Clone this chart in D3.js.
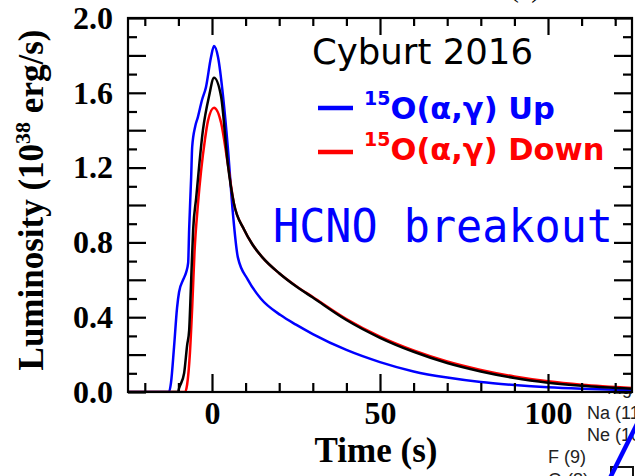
<!DOCTYPE html>
<html>
<head>
<meta charset="utf-8">
<script src="https://cdn.jsdelivr.net/npm/d3@7"></script>
<style>
  html, body { margin: 0; padding: 0; background: #fff; }
  svg { display: block; }
</style>
</head>
<body>
<svg id="chart" width="635" height="476"></svg>
<script>
// ---------------- DATA ----------------
// Time (s) and luminosity (10^38 erg/s) for each curve
const upTime = [-25, -12.8, -12.2, -11.3, -10.4, -9.8, -8.6, -7.7, -7.1, -6.8, -6.2, -5.9, -5.0, -4.2, -3.0, -1.8, -0.3, 0.6, 1.8, 3.3, 4.7, 6.2, 7.7, 10.7, 14.5, 20.5, 25, 30, 40, 50, 60, 70, 80, 90, 100, 110, 125];
const upLum  = [0, 0, 0.05, 0.24, 0.45, 0.535, 0.60, 0.64, 0.69, 0.87, 1.15, 1.31, 1.42, 1.47, 1.56, 1.63, 1.79, 1.85, 1.79, 1.58, 1.31, 0.96, 0.72, 0.60, 0.50, 0.41, 0.36, 0.31, 0.225, 0.16, 0.11, 0.077, 0.053, 0.037, 0.025, 0.017, 0.009];

const baseTime = [-25, -10.1, -9.8, -8.3, -7.4, -6.8, -6.2, -5.6, -4.7, -2.7, -0.9, 0.6, 2.7, 4.7, 6.5, 9.5, 12, 15, 20, 25, 30, 40, 50, 60, 70, 80, 90, 100, 110, 125];
const baseLum  = [0, 0, 0.02, 0.10, 0.25, 0.33, 0.60, 0.87, 1.04, 1.40, 1.58, 1.68, 1.58, 1.22, 1.01, 0.87, 0.79, 0.72, 0.635, 0.565, 0.505, 0.385, 0.29, 0.215, 0.155, 0.11, 0.075, 0.05, 0.033, 0.017];

const downTime = [-25, -8.0, -7.4, -6.6, -5.9, -5.2, -4.2, -2.1, -1.2, 0.6, 2.7, 4.7, 6.5, 9.5, 12, 15, 20, 25, 30, 40, 50, 60, 70, 80, 90, 100, 110, 125];
const downLum  = [0, 0, 0.04, 0.20, 0.45, 0.75, 1.00, 1.35, 1.45, 1.52, 1.44, 1.22, 1.01, 0.87, 0.79, 0.72, 0.635, 0.567, 0.508, 0.39, 0.296, 0.222, 0.163, 0.118, 0.083, 0.057, 0.039, 0.022];

const xMajorTicks = [0, 50, 100];
const xMinorTicks = [-20, -10, 10, 20, 30, 40, 60, 70, 80, 90, 110, 120];
const yMajorTicks = [0, 0.2, 0.4, 0.6, 0.8, 1.0, 1.2, 1.4, 1.6, 1.8, 2.0];
const yLabelTicks = [0, 0.4, 0.8, 1.2, 1.6, 2.0];
const yMinorTicks = [0.1, 0.3, 0.5, 0.7, 0.9, 1.1, 1.3, 1.5, 1.7, 1.9];

const seriesNames = ["15O(α,γ) Up", "15O(α,γ) Down", "Cyburt 2016"];
const fragmentLabels = ["Mg (12)", "Na (11)", "Ne (10)", "F (9)", "O (8)"];

// ---------------- LAYOUT ----------------
const L = 128, R = 632, T = 18, B = 392;
const serif = "'Liberation Serif', 'Times New Roman', serif";
const sans = "'DejaVu Sans', Verdana, sans-serif";
const mono = "'DejaVu Sans Mono', monospace";

const svg = d3.select("#chart");
svg.append("rect").attr("width", 635).attr("height", 476).attr("fill", "#fff");

// --- fragment of neighbouring figure (bottom-right) ---
const frag = svg.append("g");
const fragPos = [[607, 394], [587, 419], [587, 441], [548, 463], [548, 486]];
frag.selectAll("text").data(fragmentLabels).join("text")
  .attr("x", (d, i) => fragPos[i][0]).attr("y", (d, i) => fragPos[i][1])
  .attr("font-family", "'Liberation Sans', Arial, sans-serif")
  .attr("font-size", 18).attr("fill", "#222").text(d => d);
frag.append("rect").attr("x", 611).attr("y", 467).attr("width", 22).attr("height", 14)
  .attr("fill", "none").attr("stroke", "#111").attr("stroke-width", 2);
frag.append("line").attr("x1", 610).attr("y1", 478).attr("x2", 637).attr("y2", 424)
  .attr("stroke", "#0000ff").attr("stroke-width", 4.5);
// cover (plot panel hides upper part of Mg label)
svg.append("rect").attr("x", 0).attr("y", 0).attr("width", 635).attr("height", 393).attr("fill", "#fff");

// cut-off panel label at the very top
svg.append("text").attr("x", 525).attr("y", -3).attr("text-anchor", "middle")
  .attr("font-family", serif).attr("font-size", 28).text("(c)");

const x = d3.scaleLinear().domain([-25, 125]).range([L, R]);
const y = d3.scaleLinear().domain([0, 2]).range([B, T]);

// clip
svg.append("defs").append("clipPath").attr("id", "clip")
  .append("rect").attr("x", L).attr("y", T).attr("width", R - L).attr("height", B - T);

const line = d3.line().x(d => x(d[0])).y(d => y(d[1])).curve(d3.curveMonotoneX);
const curves = [
  { t: upTime, v: upLum, color: "#0000ff" },
  { t: downTime, v: downLum, color: "#ff0000" },
  { t: baseTime, v: baseLum, color: "#000000" }
];
const gLines = svg.append("g").attr("clip-path", "url(#clip)");
curves.forEach(c => {
  gLines.append("path").datum(c.t.map((t, i) => [t, c.v[i]]))
    .attr("d", line).attr("fill", "none").attr("stroke", c.color)
    .attr("stroke-width", 2.5).attr("stroke-linejoin", "round");
});

// ---------------- AXES ----------------
function styleAxis(g) {
  g.select(".domain").remove();
  g.selectAll(".tick line").attr("stroke", "#000").attr("stroke-width", 2.2);
  g.selectAll("text").attr("font-family", serif).attr("font-weight", "bold")
    .attr("font-size", 32).attr("fill", "#000");
}
// bottom
svg.append("g").attr("transform", `translate(0,${B})`)
  .call(d3.axisBottom(x).tickValues(xMinorTicks).tickSize(-9).tickFormat(""))
  .call(styleAxis);
const gxb = svg.append("g").attr("transform", `translate(0,${B})`)
  .call(d3.axisBottom(x).tickValues(xMajorTicks).tickSize(-18).tickFormat(d3.format("d")))
  .call(styleAxis);
gxb.selectAll("text").attr("y", 32).attr("dy", null);
// top
svg.append("g").attr("transform", `translate(0,${T})`)
  .call(d3.axisTop(x).tickValues(xMinorTicks).tickSize(-8).tickFormat(""))
  .call(styleAxis);
svg.append("g").attr("transform", `translate(0,${T})`)
  .call(d3.axisTop(x).tickValues(xMajorTicks).tickSize(-17).tickFormat(""))
  .call(styleAxis);
// left
svg.append("g").attr("transform", `translate(${L},0)`)
  .call(d3.axisLeft(y).tickValues(yMinorTicks).tickSize(-9).tickFormat(""))
  .call(styleAxis);
const gyl = svg.append("g").attr("transform", `translate(${L},0)`)
  .call(d3.axisLeft(y).tickValues(yMajorTicks).tickSize(-18)
    .tickFormat(d => yLabelTicks.some(v => Math.abs(v - d) < 1e-9) ? d3.format(".1f")(d) : ""))
  .call(styleAxis);
gyl.selectAll("text").attr("x", -15).attr("dy", "0.32em");
// right
svg.append("g").attr("transform", `translate(${R},0)`)
  .call(d3.axisRight(y).tickValues(yMinorTicks).tickSize(-9).tickFormat(""))
  .call(styleAxis);
svg.append("g").attr("transform", `translate(${R},0)`)
  .call(d3.axisRight(y).tickValues(yMajorTicks).tickSize(-18).tickFormat(""))
  .call(styleAxis);

// frame
svg.append("rect").attr("x", L).attr("y", T).attr("width", R - L).attr("height", B - T)
  .attr("fill", "none").attr("stroke", "#000").attr("stroke-width", 2.2);

// axis titles
svg.append("text").attr("x", 376).attr("y", 462).attr("text-anchor", "middle")
  .attr("font-family", serif).attr("font-weight", "bold").attr("font-size", 35)
  .text("Time (s)");

const yt = svg.append("text")
  .attr("transform", "translate(43,200) rotate(-90)")
  .attr("text-anchor", "middle")
  .attr("font-family", serif).attr("font-weight", "bold").attr("font-size", 35);
yt.append("tspan").text("Luminosity (10");
yt.append("tspan").attr("font-size", 22).attr("dy", -13).text("38");
yt.append("tspan").attr("dy", 13).text(" erg/s)");

// ---------------- LEGEND / ANNOTATIONS ----------------
svg.append("text").attr("x", 312).attr("y", 64)
  .attr("font-family", sans).attr("font-size", 35.5).attr("fill", "#000")
  .text(seriesNames[2]);

const legendRows = [
  { name: seriesNames[0], color: "#0000ff", base: 119, dash: 108 },
  { name: seriesNames[1], color: "#ff0000", base: 160, dash: 152 }
];
legendRows.forEach(r => {
  svg.append("line").attr("x1", 318).attr("x2", 353).attr("y1", r.dash).attr("y2", r.dash)
    .attr("stroke", r.color).attr("stroke-width", 4.5);
  const t = svg.append("text").attr("x", 364).attr("y", r.base)
    .attr("font-family", sans).attr("font-weight", "bold").attr("fill", r.color);
  t.append("tspan").attr("font-size", 19).attr("dy", -14).text(r.name.slice(0, 2));
  t.append("tspan").attr("font-size", 30.5).attr("dy", 14).text(r.name.slice(2));
});

svg.append("text").attr("x", 273).attr("y", 242)
  .attr("font-family", mono).attr("font-size", 46).attr("fill", "#0000ff")
  .attr("textLength", 340).attr("lengthAdjust", "spacingAndGlyphs")
  .text("HCNO breakout");
</script>
</body>
</html>
